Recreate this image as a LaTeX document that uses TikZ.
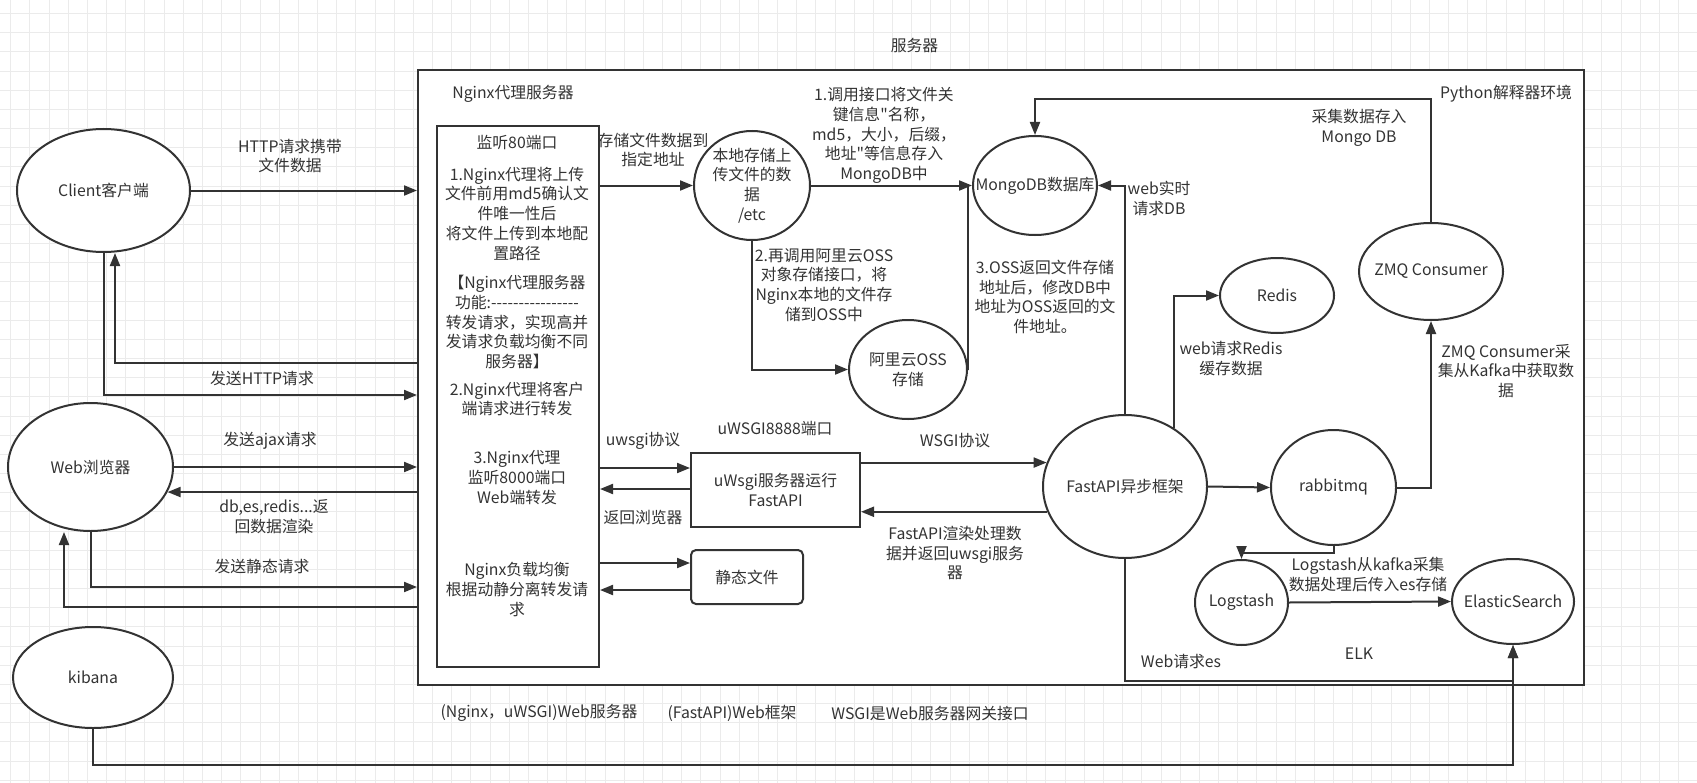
\documentclass[tikz,border=0pt]{standalone}
\usepackage{fontspec}
\setmainfont{Noto Sans CJK SC}[Ligatures=TeXOff]
\usepackage{xcolor}
\usetikzlibrary{
arrows.meta,
positioning,
shapes.geometric
}
\definecolor{ink}{HTML}{333333}
\definecolor{gridgray}{HTML}{EBEBEB}
\newcommand\diagfont{\fontsize{15.8bp}{19.7bp}\selectfont}

\begin{document}
\begin{tikzpicture}[x=1bp, y=-1bp, >={Triangle[length=13bp,width=10bp]},
  every node/.style={font=\diagfont, text=ink},
  wire/.style={draw=ink, line width=2bp},
  arr/.style={wire, ->},
  ell/.style={draw=ink, line width=2bp, fill=white, ellipse, inner sep=0pt},
  box/.style={draw=ink, line width=2bp, fill=white, inner sep=0pt, anchor=north west, align=center},
  txt/.style={align=center, inner sep=0pt},
  gridline/.style={draw=gridgray, line width=1bp}]

\useasboundingbox (0,0) rectangle (1697,783);
\fill[white] (0,0) rectangle (1697,783);

% Background grid
\foreach \i in {0,...,88} \draw[gridline] ({10.8+19.17*\i},0) -- ++(0,783);
\foreach \j in {0,...,40} \draw[gridline] (0,{13.5+19.17*\j}) -- ++(1697,0);

% Server frame and boxes
\node[box, minimum width=1166bp, minimum height=615bp] (outer) at (417,69) {};
\node[box, minimum width=162bp, minimum height=541bp] (inner) at (436,125) {};
\node[box, minimum width=169bp, minimum height=74bp] (uwsgi) at (690,452) {uWsgi服务器运行\\FastAPI};
\node[box, rounded corners=5bp, minimum width=112bp, minimum height=54bp] (static) at (690,549) {静态文件};

% Clients
\node[ell, minimum width=173bp, minimum height=123bp, label={center:Client客户端}] (client) at (103.5,190.5) {};
\node[ell, minimum width=165bp, minimum height=128bp, label={center:Web浏览器}] (web) at (90.5,467) {};
\node[ell, minimum width=160bp, minimum height=101bp, label={center:kibana}] (kibana) at (93,677.5) {};

% Storage and services
\node[ell, minimum width=116bp, minimum height=109bp, label={[txt]center:本地存储上\\传文件的数\\据\\/etc}] (local) at (752,185.5) {};
\node[ell, minimum width=118bp, minimum height=99bp, label={[txt]center:阿里云OSS\\存储}] (oss) at (908,369.5) {};
\node[ell, minimum width=124bp, minimum height=99bp, label={center:MongoDB数据库}] (mongo) at (1035,185.5) {};
\node[ell, minimum width=164bp, minimum height=143bp, label={center:FastAPI异步框架}] (fastapi) at (1125,486.5) {};
\node[ell, minimum width=114bp, minimum height=75bp, label={center:Redis}] (redis) at (1277,295.5) {};
\node[ell, minimum width=144bp, minimum height=97bp, label={center:ZMQ Consumer}] (zmq) at (1431,271.5) {};
\node[ell, minimum width=125bp, minimum height=115bp, label={center:rabbitmq}] (rabbit) at (1333.5,487.5) {};
\node[ell, minimum width=93bp, minimum height=85bp, label={center:Logstash}] (logstash) at (1241.5,602.5) {};
\node[ell, minimum width=122bp, minimum height=85bp, label={center:ElasticSearch}] (es) at (1513,601.5) {};

% Client <-> Nginx
\draw[arr] (client.east) -- (client.east -| outer.west);
\draw[arr] (outer.west |- 0,363) -| ([xshift=11.5bp]client.south);
\draw[arr] (client.south) |- (outer.west |- 0,395);
\draw[arr] (web.east) -- (web.east -| outer.west);
\draw[arr] (outer.west |- web.-18) -- (web.-18);
\draw[arr] (web.south) |- (outer.west |- 0,587);
\draw[arr] (outer.west |- 0,607) -| ([xshift=-26.5bp]web.south);
\draw[arr] (kibana.south) -- (kibana.south |- 0,765) -| (es.south);

% Upload path
\draw[arr] (local.west -| inner.east) -- (local.west);
\draw[arr] (local.east) -- (mongo.west);
\draw[arr] (local.south) |- (oss.west);
\draw[wire] (oss.east) -| ([xshift=-4bp]mongo.west);

% uWSGI and static files
\draw[arr] (inner.east |- 0,468) -- (uwsgi.west |- 0,468);
\draw[arr] (uwsgi.west |- 0,489) -- (inner.east |- 0,489);
\draw[arr] (inner.east |- 0,563) -- (static.west |- 0,563);
\draw[arr] (static.west |- 0,590) -- (inner.east |- 0,590);
\draw[arr] (uwsgi.east |- fastapi.163) -- (fastapi.163);
\draw[arr] (fastapi.198) -- (uwsgi.east |- fastapi.198);

% FastAPI backends
\draw[arr] (fastapi.north) |- (mongo.east);
\draw[arr] (fastapi.50) |- (redis.west);
\draw[arr] (fastapi.east) -- (rabbit.west);
\draw[arr] (rabbit.east) -| (zmq.south);
\draw[arr] (zmq.north) -- (zmq.north |- 0,99) -| (mongo.north);
\draw[arr] (rabbit.south) -- ++(0,7) -| (logstash.north);
\draw[arr] (logstash.east) -- (es.west);
\draw[arr] (fastapi.south) -- (fastapi.south |- 0,681) -| (es.south);

% Titles
\node[txt] (servertitle) at (914.5,45.5) {服务器};
\node[txt] (nginxtitle) at (513,94) {Nginx代理服务器};
\node[txt] (pytitle) at (1506,94) {Python解释器环境};

% Nginx box text
\node[txt] (listen80) at (517,143) {监听80端口};
\node[txt] (step1) at (517,213.6) {1.Nginx代理将上传\\文件前用md5确认文\\件唯一性后\\将文件上传到本地配\\置路径};
\node[txt] (role) at (517,322) {【Nginx代理服务器\\功能:----------------\\转发请求，实现高并\\发请求负载均衡不同\\服务器】};
\node[txt] (step2) at (517,399) {2.Nginx代理将客户\\端请求进行转发};
\node[txt] (step3) at (517,477.5) {3.Nginx代理\\监听8000端口\\Web端转发};
\node[txt] (balance) at (517,589.5) {Nginx负载均衡\\根据动静分离转发请\\求};

% Connector labels
\node[txt] (httplbl) at (290,156) {HTTP请求携带\\文件数据};
\node[txt] (sendhttp) at (262,378) {发送HTTP请求};
\node[txt] (sendajax) at (270,441) {发送ajax请求};
\node[txt] (backlbl) at (274,516.5) {db,es,redis...返\\回数据渲染};
\node[txt] (sendstatic) at (262,566) {发送静态请求};
\node[txt] (storelbl) at (653,150) {存储文件数据到\\指定地址};
\node[txt] (mongolbl) at (884,135.5) {1.调用接口将文件关\\键信息"名称，\\md5，大小，后缀，\\地址"等信息存入\\MongoDB中};
\node[txt] (osslbl) at (824,285) {2.再调用阿里云OSS\\对象存储接口，将\\Nginx本地的文件存\\储到OSS中};
\node[txt] (osslbl2) at (1045,297) {3.OSS返回文件存储\\地址后，修改DB中\\地址为OSS返回的文\\件地址。};
\node[txt] (dblbl) at (1159,198.5) {web实时\\请求DB};
\node[txt] (collectlbl) at (1359,128) {采集数据存入\\Mongo DB};
\node[txt] (redislbl) at (1231,358.5) {web请求Redis\\缓存数据};
\node[txt] (zmqlbl) at (1506,371) {ZMQ Consumer采\\集从Kafka中获取数\\据};
\node[txt] (portlbl) at (775,429) {uWSGI8888端口};
\node[txt] (uwsgilbl) at (643,441) {uwsgi协议};
\node[txt] (returnlbl) at (643,517) {返回浏览器};
\node[txt] (wsgilbl) at (955,441) {WSGI协议};
\node[txt] (renderlbl) at (955,553) {FastAPI渲染处理数\\据并返回uwsgi服务\\器};
\node[txt] (kafkalbl) at (1368,574.5) {Logstash从kafka采集\\数据处理后传入es存储};
\node[txt] (elklbl) at (1359,654) {ELK};
\node[txt] (eslbl) at (1181,662) {Web请求es};

% Footnotes
\node[txt] (webserver) at (539,713) {(Nginx，uWSGI)Web服务器};
\node[txt] (webframe) at (732,713) {(FastAPI)Web框架};
\node[txt] (wsgidef) at (930,713) {WSGI是Web服务器网关接口};

\end{tikzpicture}
\end{document}
